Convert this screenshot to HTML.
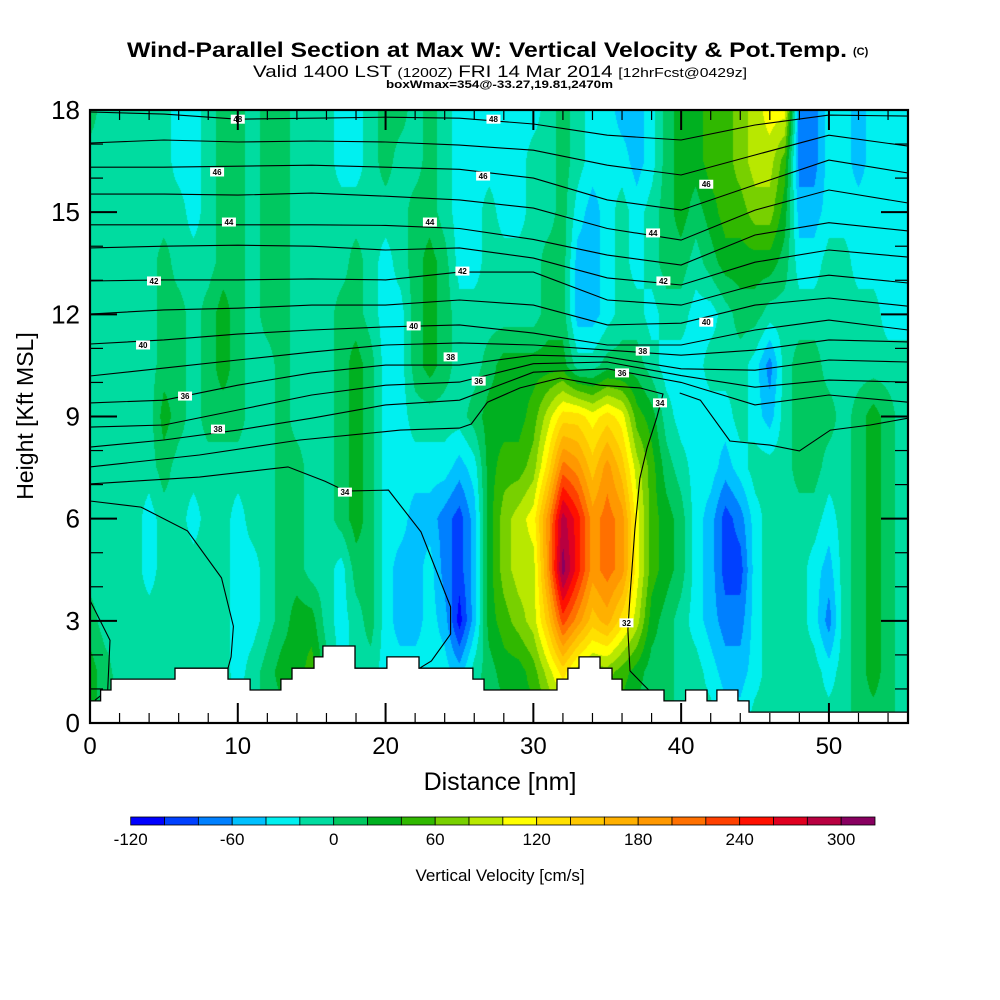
<!DOCTYPE html>
<html><head><meta charset="utf-8">
<style>
body{margin:0;background:#fff;width:1000px;height:1000px;overflow:hidden;position:relative;font-family:"Liberation Sans",sans-serif}
#field{position:absolute;left:90px;top:110px}
#chart{position:absolute;left:0;top:0}
</style></head>
<body>
<canvas id="field" width="818" height="613"></canvas>
<svg id="chart" width="1000" height="1000" xmlns="http://www.w3.org/2000/svg">
  <g font-family="Liberation Sans, sans-serif" fill="#000">
    <text x="127" y="57" font-size="21" font-weight="bold" textLength="720" lengthAdjust="spacingAndGlyphs">Wind-Parallel Section at Max W: Vertical Velocity &amp; Pot.Temp.</text>
    <text x="853" y="55" font-size="11" font-weight="bold">(C)</text>
    <text x="253" y="77" font-size="17" textLength="494" lengthAdjust="spacingAndGlyphs">Valid 1400 LST <tspan font-size="13">(1200Z)</tspan> FRI 14 Mar 2014 <tspan font-size="13">[12hrFcst@0429z]</tspan></text>
    <text x="386" y="88" font-size="11" font-weight="bold" textLength="227" lengthAdjust="spacingAndGlyphs">boxWmax=354@-33.27,19.81,2470m</text>
  </g>
  <g id="overlay"></g>
  <text x="500" y="790" font-size="25" text-anchor="middle">Distance [nm]</text>
  <text x="0" y="0" font-size="23" text-anchor="middle" transform="translate(33,416) rotate(-90)">Height [Kft MSL]</text>
  <text x="500" y="881" font-size="17" text-anchor="middle">Vertical Velocity [cm/s]</text>
</svg>
<script>
const X0=90,X1=908,Y0=723,Y1=110,XMAX=55.35,ZMAX=18;
function sx(x){return X0+(X1-X0)*x/XMAX;}
function sy(z){return Y0-(Y0-Y1)*z/ZMAX;}

// ---- data: vertical velocity (cm/s) on grid x = 0..55 nm (1 nm step), rows at heights below (kft)
const zRows=[0,1.5,3,4.5,6,7.5,9,10.5,12,13.5,15,16.5,18];
const w_z00=[30,10,10,-10,-10,-10,-10,-10,-10,-10,-10,-10,10,10,10,30,10,-10,-10,-10,-10,-10,-10,-10,-10,-10,10,10,10,30,30,50,70,50,30,30,30,10,10,10,-10,-10,-10,-30,-30,-10,-10,-10,-10,-10,-10,-10,10,10,10,-10];
const w_z15=[30,10,-10,-10,-10,-10,-10,-10,-10,-10,-30,-10,10,30,30,50,10,-30,-10,-10,-30,-30,-30,-30,-30,-50,-10,10,30,30,50,90,130,90,70,70,50,30,10,10,-10,-10,-30,-50,-50,-30,-10,-10,-10,-10,-30,-10,10,30,10,-10];
const w_z30=[10,-10,-10,-10,-10,-10,-10,-10,-10,-10,-30,-30,-10,10,30,30,-10,-30,-10,10,-30,-50,-50,-30,-50,-110,-50,30,50,70,90,150,230,190,150,170,130,90,30,10,-10,-30,-50,-70,-70,-30,-10,-10,-10,-30,-70,-10,10,30,10,-10];
const w_z45=[-10,-10,-10,-10,-30,-10,-10,-10,-10,-10,-30,-30,-10,10,10,-10,-10,-30,10,10,-30,-50,-50,-30,-70,-90,-50,30,70,90,90,190,310,250,190,210,190,110,50,30,10,-30,-50,-90,-90,-30,-10,-10,-10,-30,-50,-10,10,30,10,-10];
const w_z60=[-10,-10,-10,-10,-30,-10,-10,-30,-10,-10,-30,-10,-10,10,10,-10,-10,10,30,10,-30,-30,-50,-50,-70,-90,-50,30,70,90,110,190,290,250,190,210,190,110,50,30,10,-30,-50,-90,-70,-30,-10,-10,-10,-10,-30,-10,10,30,10,-10];
const w_z75=[-10,-10,-10,-10,-10,10,-10,-10,-10,-10,-10,-10,-10,10,10,-10,-10,10,30,10,-30,-30,-30,-30,-30,-50,-30,30,50,50,70,130,210,190,150,190,150,90,50,10,-10,-30,-30,-50,-30,-10,-10,-10,10,10,-10,-10,10,30,10,-10];
const w_z90=[-10,-10,-10,-10,-10,30,10,-10,10,10,10,-10,-10,10,-10,-10,-10,10,30,10,-30,-30,-10,-10,-10,-10,10,30,30,30,50,90,130,130,110,130,110,50,30,-10,-30,-30,-30,-30,-10,-30,-50,-10,10,10,10,-10,10,30,10,-10];
const w_z105=[-10,-10,-10,-10,-10,10,10,-10,10,30,10,-10,-10,10,-10,-10,-10,10,30,10,-30,-30,10,30,10,-10,-10,10,30,30,30,30,30,-10,-10,10,10,10,-10,-30,-30,-30,-10,-10,-10,-30,-70,-10,10,10,-10,-10,-10,-10,-10,-10];
const w_z120=[-10,-10,-10,-10,-10,10,10,-10,10,30,10,-10,10,10,-10,-10,-10,10,10,-10,-30,-30,10,30,10,-10,-10,-10,-10,-10,-10,10,10,-50,-50,-30,-10,-10,-30,-10,-10,-30,-30,-10,10,10,-10,-10,-10,-10,-10,-10,-10,-10,-30,-30];
const w_z135=[-10,-10,-10,-10,-10,10,-10,-10,-10,10,10,-10,10,10,-10,-10,-10,-10,10,-10,-30,-10,10,30,10,-30,-30,-10,-10,-10,-10,10,10,-50,-50,-30,-10,-30,-10,10,10,-10,10,30,30,30,30,10,-30,-30,-10,-10,-30,-30,-30,-30];
const w_z150=[-10,-10,-10,-10,-10,-10,-10,-30,-10,10,10,-10,10,10,-10,-10,-10,-10,-10,-10,-10,-10,10,10,-10,-30,-30,-10,-30,-30,-10,-10,10,-30,-50,-30,-10,-30,-10,10,30,10,30,50,50,70,70,30,-50,-50,-30,-30,-30,-30,-30,-30];
const w_z165=[-10,-10,-10,-10,-10,-10,-30,-30,-10,10,10,-10,10,10,-10,-10,-10,-30,-30,-10,10,-10,-10,10,-10,-30,-30,-30,-30,-30,-10,-10,10,-10,-30,-30,-30,-50,-30,10,30,30,50,50,70,90,90,50,-70,-70,-30,-30,-50,-30,-30,-30];
const w_z180=[10,-10,-10,-10,-10,-10,-30,-30,-10,10,10,-10,10,10,-10,-10,-10,-30,-30,-10,10,10,-10,10,-10,-30,-30,-30,-30,-30,-30,-10,10,-10,-30,-30,-50,-50,-30,10,30,30,50,50,70,90,110,110,-70,-70,-30,-30,-50,-30,-30,-30];
const wRows=[w_z00,w_z15,w_z30,w_z45,w_z60,w_z75,w_z90,w_z105,w_z120,w_z135,w_z150,w_z165,w_z180];

// colour levels
const levelEdges=[-120,-100,-80,-60,-40,-20,0,20,40,60,80,100,120,140,160,180,200,220,240,260,280,300,320];
const levelColors=["#0000ff","#0040ff","#0080ff","#00c0ff","#00f0f0","#00dca0","#00c860","#00b020","#30b800","#78d000","#b8e800","#ffff00","#ffe000","#ffc800","#ffb000","#ff9800","#ff7000","#ff4000","#ff1000","#e00020","#b80040","#880060"];
const colorbarLabels=[-120,-60,0,60,120,180,240,300];

// terrain (step heights in kft between breakpoints in nm)
const terrainX=[0,0.72,1.42,5.75,9.34,10.83,12.92,13.67,15.16,15.76,17.93,20.09,22.26,25.91,26.66,31.6,32.34,33.09,34.51,35.32,36.0,38.84,40.3,41.75,42.42,43.84,44.59,55.35];
const terrainH=[0.65,0.97,1.29,1.61,1.29,0.97,1.29,1.61,1.94,2.26,1.61,1.94,1.61,1.29,0.97,1.29,1.61,1.94,1.61,1.29,0.97,0.65,0.97,0.65,0.97,0.65,0.32];

// potential temperature contours (kft at node distances)
const thetaNodes=[0,5,10,15,20,25,30,35,40,45,50,55.35];
const theta48=[17.94,17.88,17.73,17.76,17.79,17.76,17.59,17.26,17.12,17.56,17.85,17.82];
const theta47=[17.03,17.12,17.06,17.09,17.06,16.97,16.82,16.38,16.09,16.68,17.26,16.94];
const theta46=[16.32,16.32,16.35,16.38,16.32,16.26,16.0,15.36,15.06,15.8,16.53,16.15];
const theta45=[15.53,15.53,15.5,15.56,15.47,15.36,15.12,14.52,14.18,15.06,15.65,15.27];
const theta44=[14.63,14.63,14.63,14.63,14.61,14.52,14.2,13.74,13.45,14.33,14.69,14.45];
const theta43=[13.95,14.0,14.03,14.0,13.89,13.95,13.65,13.07,12.86,13.53,13.89,13.68];
const theta42=[12.98,13.01,13.01,13.04,13.01,13.24,13.24,12.42,12.27,12.86,13.15,12.92];
const theta41=[12.01,12.13,12.18,12.27,12.27,12.42,12.27,11.69,11.74,12.27,12.48,12.24];
const theta40=[11.13,11.25,11.42,11.54,11.63,11.69,11.45,11.1,11.1,11.54,11.83,11.54];
const theta39=[10.19,10.42,10.66,10.89,11.1,11.16,11.1,10.95,10.8,10.95,11.25,11.19];
const theta38=[9.4,9.48,9.92,10.28,10.51,10.51,10.8,10.75,10.4,10.36,10.66,10.6];
const theta37=[8.69,8.75,9.19,9.63,9.92,10.01,10.55,10.6,10.2,9.86,10.07,10.01];
const theta36=[8.1,8.31,8.6,8.95,9.34,9.48,10.3,10.4,10.0,9.34,9.63,9.42];
const thetaRegular=[theta48,theta47,theta46,theta45,theta44,theta43,theta42,theta41,theta40,theta39,theta38,theta37,theta36];
const theta35X=[0,7.4,14.2,21,25,25.8,26.9,29.1,31.8,34.5,37.2,38.77,38.36,37.69,37.21,36.87,36.54,36.4,36.54,37.42,38.09];
const theta35Z=[7.52,7.87,8.31,8.6,8.66,8.78,9.42,9.84,10.13,9.92,9.84,9.66,8.98,8.07,7.19,5.7,3.73,2.73,1.53,1.14,0.85];
const theta35bX=[39.9,41.3,43.3,46,48,50.1,52.8,55.35];
const theta35bZ=[9.69,9.48,8.28,8.16,7.99,8.6,8.75,8.95];
const theta34X=[0,7.4,13.4,15.9,17.3,20.2,22.4,24.4,24.4,23.1,22.3];
const theta34Z=[7.02,7.22,7.52,7.1,6.81,6.84,5.61,3.41,2.61,1.82,1.61];
const theta33X=[0,3.45,6.6,8.9,9.7,9.55,9.34];
const theta33Z=[6.52,6.34,5.64,4.26,2.84,1.94,1.61];
const theta32X=[0,1.35,1.2,0.34];
const theta32Z=[3.6,2.43,0.97,0.67];
const labelText=["48","48","46","46","46","44","44","44","42","42","42","40","40","40","38","38","38","36","36","36","34","34","32"];
const labelX=[10.0,27.3,8.6,26.6,41.7,9.4,23.0,38.1,4.33,25.2,38.8,3.59,21.9,41.7,24.4,37.4,8.66,26.3,36.0,6.43,17.25,38.57,36.3];
const labelZ=[17.73,17.73,16.18,16.06,15.82,14.71,14.71,14.39,12.98,13.27,12.98,11.1,11.66,11.77,10.75,10.92,8.63,10.04,10.28,9.6,6.78,9.4,2.94];

const xTicks=[0,10,20,30,40,50];
const yTicks=[0,3,6,9,12,15,18];

// ---- render field
(function(){
  const cv=document.getElementById('field');
  const ctx=cv.getContext('2d');
  const W=cv.width,H=cv.height;
  const img=ctx.createImageData(W,H);
  const rgb=levelColors.map(c=>[parseInt(c.substr(1,2),16),parseInt(c.substr(3,2),16),parseInt(c.substr(5,2),16)]);
  const nx=w_z00.length;
  for(let py=0;py<H;py++){
    const z=(H-py-0.5)/H*ZMAX;
    let j=0;while(j<zRows.length-2&&z>zRows[j+1])j++;
    const fz=Math.max(0,Math.min(1,(z-zRows[j])/(zRows[j+1]-zRows[j])));
    const r0=wRows[j],r1=wRows[j+1];
    for(let px=0;px<W;px++){
      const x=(px+0.5)/W*XMAX;
      let i=Math.min(Math.floor(x),nx-2);
      const fx=Math.max(0,Math.min(1,x-i));
      const v=(r0[i]*(1-fx)+r0[i+1]*fx)*(1-fz)+(r1[i]*(1-fx)+r1[i+1]*fx)*fz;
      let k=0;while(k<levelColors.length-1&&v>=levelEdges[k+1])k++;
      const c=rgb[k];const o=(py*W+px)*4;
      img.data[o]=c[0];img.data[o+1]=c[1];img.data[o+2]=c[2];img.data[o+3]=255;
    }
  }
  ctx.putImageData(img,0,0);
})();

// ---- svg overlay
const NS="http://www.w3.org/2000/svg";
const ov=document.getElementById('overlay');
function mk(tag,attrs,parent){const e=document.createElementNS(NS,tag);for(const k in attrs)e.setAttribute(k,attrs[k]);(parent||ov).appendChild(e);return e;}
function pts(xs,zs){return xs.map((x,i)=>sx(x).toFixed(1)+","+sy(zs[i]).toFixed(1)).join(" ");}

// theta lines
const gl=mk('g',{fill:'none',stroke:'#000','stroke-width':1.1});


thetaRegular.forEach(arr=>{
  const p=mk('polyline',{points:pts(thetaNodes,arr)},gl);
  
  
});
[[theta35X,theta35Z],[theta35bX,theta35bZ],[theta34X,theta34Z],[theta33X,theta33Z],[theta32X,theta32Z]].forEach(a=>{
  const p=mk('polyline',{points:pts(a[0],a[1])},gl);
  
  
});

// terrain
let d="M"+sx(terrainX[0])+","+Y0;
for(let i=0;i<terrainH.length;i++){d+=" L"+sx(terrainX[i]).toFixed(1)+","+sy(terrainH[i]).toFixed(1)+" L"+sx(terrainX[i+1]).toFixed(1)+","+sy(terrainH[i]).toFixed(1);}
d+=" L"+X1+","+Y0+" Z";
const terr=mk('path',{d:d,fill:'#fff',stroke:'#000','stroke-width':1.3});



// contour labels
labelText.forEach((t,i)=>{
  const g=mk('g',{});
  
  
  mk('rect',{x:sx(labelX[i])-7,y:sy(labelZ[i])-4.5,width:14,height:9,fill:'#fff'},g);
  const tx=mk('text',{x:sx(labelX[i]),y:sy(labelZ[i])+3,'font-size':8,'font-weight':'bold','text-anchor':'middle','font-family':'Liberation Sans, sans-serif'},g);
  tx.textContent=t;
});

// ticks
const gt=mk('g',{stroke:'#000','stroke-width':1.5});


for(let x=0;x<=XMAX;x+=2){const maj=(x%10===0);const L=maj?20:10;
  mk('line',{x1:sx(x),x2:sx(x),y1:Y0,y2:Y0-L,'stroke-width':maj?2:1.2},gt);
  mk('line',{x1:sx(x),x2:sx(x),y1:Y1,y2:Y1+L,'stroke-width':maj?2:1.2},gt);}
for(let z=0;z<=ZMAX;z+=1){const maj=(z%3===0);const L=maj?27:13;
  mk('line',{x1:X0,x2:X0+L,y1:sy(z),y2:sy(z),'stroke-width':maj?2:1.2},gt);
  mk('line',{x1:X1,x2:X1-L,y1:sy(z),y2:sy(z),'stroke-width':maj?2:1.2},gt);}
const frame=mk('rect',{x:X0,y:Y1,width:X1-X0,height:Y0-Y1,fill:'none',stroke:'#000','stroke-width':2.2});



xTicks.forEach(v=>{const t=mk('text',{x:sx(v),y:754,'font-size':24,'text-anchor':'middle','font-family':'Liberation Sans, sans-serif'});
  
  
  t.textContent=v;});
yTicks.forEach(v=>{const t=mk('text',{x:80,y:sy(v)+9,'font-size':26,'text-anchor':'end','font-family':'Liberation Sans, sans-serif'});
  
  
  t.textContent=v;});

// colorbar
const CB0=130.7,CB1=875,CBY=817,CBH=8;
const cbw=(CB1-CB0)/levelColors.length;
const gcb=mk('g',{});


levelColors.forEach((c,i)=>{const r=mk('rect',{x:CB0+i*cbw,y:CBY,width:cbw,height:CBH,fill:c,stroke:'#000','stroke-width':0.8},gcb);
  
  });
function cbx(v){return CB0+(v-levelEdges[0])/(levelEdges[levelEdges.length-1]-levelEdges[0])*(CB1-CB0);}
colorbarLabels.forEach(v=>{const t=mk('text',{x:cbx(v),y:845,'font-size':17,'text-anchor':'middle','font-family':'Liberation Sans, sans-serif'},gcb);
  
  
  t.textContent=v;});
</script>
</body></html>
